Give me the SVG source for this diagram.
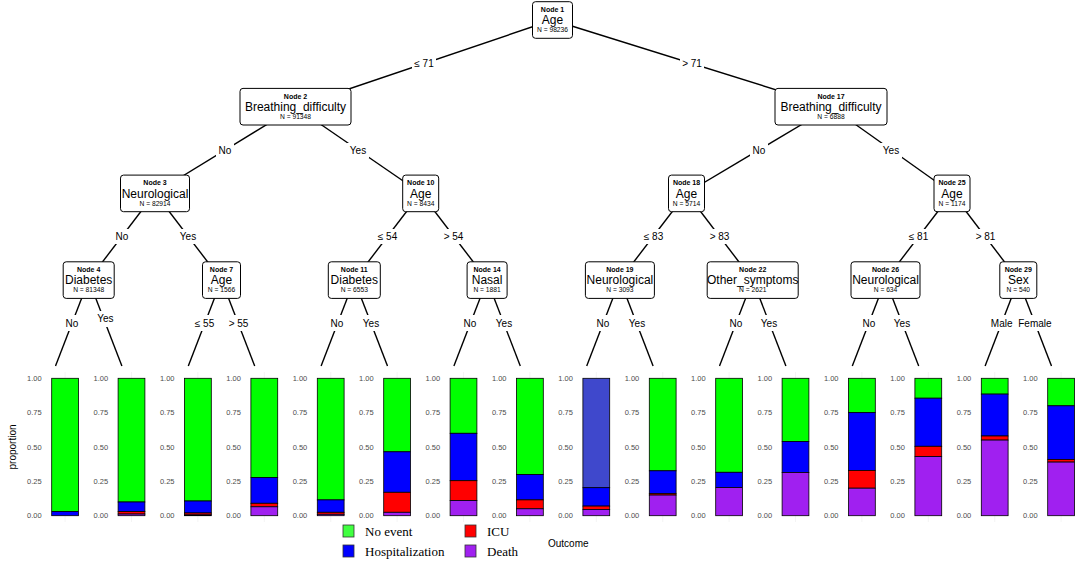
<svg xmlns="http://www.w3.org/2000/svg" width="1084" height="562" viewBox="0 0 1084 562">
<style>
.box{fill:#fff;stroke:#000;stroke-width:1}
.nid{font-family:"Liberation Sans",Arial,sans-serif;font-size:7px;font-weight:bold;text-anchor:middle;fill:#000}
.nlab{font-family:"Liberation Sans",Arial,sans-serif;font-size:12px;text-anchor:middle;fill:#000}
.nn{font-family:"Liberation Sans",Arial,sans-serif;font-size:6.7px;text-anchor:middle;fill:#000}
.edge{stroke:#000;stroke-width:1.4;fill:none}
.elbg{fill:#fff;stroke:none}
.elab{font-family:"Liberation Sans",Arial,sans-serif;font-size:10px;text-anchor:middle;fill:#000}
.tick{font-family:"Liberation Sans",Arial,sans-serif;font-size:7.5px;text-anchor:end;fill:#4d4d4d}
.grid{stroke:#ececec;stroke-width:0.6}
.g{fill:#00ff00;stroke:#000;stroke-width:0.8}
.b{fill:#0000ff;stroke:#000;stroke-width:0.8}
.r{fill:#ff0000;stroke:#000;stroke-width:0.8}
.p{fill:#a020f0;stroke:#000;stroke-width:0.8}
.s{fill:#3f48cc;stroke:#000;stroke-width:0.8}
.key{stroke:#333;stroke-width:0.8}
.leg{font-family:"Liberation Serif","Times New Roman",serif;font-size:13px;fill:#000}
.ax{font-family:"Liberation Sans",Arial,sans-serif;font-size:10px;fill:#000}
</style>

<g id="connectors">
<line class="edge" x1="552.5" y1="20" x2="295.5" y2="107"/>
<line class="edge" x1="552.5" y1="20" x2="831" y2="107"/>
<line class="edge" x1="295.5" y1="107" x2="155" y2="193"/>
<line class="edge" x1="295.5" y1="107" x2="420.7" y2="193"/>
<line class="edge" x1="831" y1="107" x2="686.5" y2="193"/>
<line class="edge" x1="831" y1="107" x2="952" y2="193"/>
<line class="edge" x1="155" y1="193" x2="88.7" y2="280"/>
<line class="edge" x1="155" y1="193" x2="221.5" y2="280"/>
<line class="edge" x1="420.7" y1="193" x2="354.3" y2="280"/>
<line class="edge" x1="420.7" y1="193" x2="487.1" y2="280"/>
<line class="edge" x1="686.5" y1="193" x2="619.9" y2="280"/>
<line class="edge" x1="686.5" y1="193" x2="752.7" y2="280"/>
<line class="edge" x1="952" y1="193" x2="885.5" y2="280"/>
<line class="edge" x1="952" y1="193" x2="1018.3" y2="280"/>
<line class="edge" x1="88.7" y1="280" x2="55.5" y2="366"/>
<line class="edge" x1="88.7" y1="280" x2="121.9" y2="366"/>
<line class="edge" x1="221.5" y1="280" x2="188.3" y2="366"/>
<line class="edge" x1="221.5" y1="280" x2="254.7" y2="366"/>
<line class="edge" x1="354.3" y1="280" x2="321.1" y2="366"/>
<line class="edge" x1="354.3" y1="280" x2="387.5" y2="366"/>
<line class="edge" x1="487.1" y1="280" x2="453.9" y2="366"/>
<line class="edge" x1="487.1" y1="280" x2="520.3" y2="366"/>
<line class="edge" x1="619.9" y1="280" x2="586.7" y2="366"/>
<line class="edge" x1="619.9" y1="280" x2="653.1" y2="366"/>
<line class="edge" x1="752.7" y1="280" x2="719.5" y2="366"/>
<line class="edge" x1="752.7" y1="280" x2="785.9" y2="366"/>
<line class="edge" x1="885.5" y1="280" x2="852.3" y2="366"/>
<line class="edge" x1="885.5" y1="280" x2="918.7" y2="366"/>
<line class="edge" x1="1018.3" y1="280" x2="985.1" y2="366"/>
<line class="edge" x1="1018.3" y1="280" x2="1051.5" y2="366"/>
<rect class="elbg" x="412" y="56" width="24" height="15"/><text class="elab" x="424" y="67">≤ 71</text>
<rect class="elbg" x="680" y="56" width="24" height="15"/><text class="elab" x="692" y="67">&gt; 71</text>
<rect class="elbg" x="216" y="143" width="18" height="15"/><text class="elab" x="225" y="154">No</text>
<rect class="elbg" x="347" y="143" width="22" height="15"/><text class="elab" x="358" y="154">Yes</text>
<rect class="elbg" x="750" y="143" width="18" height="15"/><text class="elab" x="759" y="154">No</text>
<rect class="elbg" x="880" y="143" width="22" height="15"/><text class="elab" x="891" y="154">Yes</text>
<rect class="elbg" x="113" y="229" width="18" height="15"/><text class="elab" x="122" y="240">No</text>
<rect class="elbg" x="177" y="229" width="22" height="15"/><text class="elab" x="188" y="240">Yes</text>
<rect class="elbg" x="375" y="229" width="25" height="15"/><text class="elab" x="387.5" y="240">≤ 54</text>
<rect class="elbg" x="441" y="229" width="25" height="15"/><text class="elab" x="453.5" y="240">&gt; 54</text>
<rect class="elbg" x="641" y="229" width="25" height="15"/><text class="elab" x="653.5" y="240">≤ 83</text>
<rect class="elbg" x="707" y="229" width="25" height="15"/><text class="elab" x="719.5" y="240">&gt; 83</text>
<rect class="elbg" x="906" y="229" width="25" height="15"/><text class="elab" x="918.5" y="240">≤ 81</text>
<rect class="elbg" x="973" y="229" width="25" height="15"/><text class="elab" x="985.5" y="240">&gt; 81</text>
<rect class="elbg" x="63" y="315" width="18" height="16"/><text class="elab" x="72" y="327">No</text>
<rect class="elbg" x="94" y="311" width="22" height="16"/><text class="elab" x="105.3" y="322">Yes</text>
<rect class="elbg" x="192" y="315" width="25" height="16"/><text class="elab" x="204.5" y="327">≤ 55</text>
<rect class="elbg" x="226" y="315" width="25" height="16"/><text class="elab" x="238.5" y="327">&gt; 55</text>
<rect class="elbg" x="328" y="315" width="18" height="16"/><text class="elab" x="337" y="327">No</text>
<rect class="elbg" x="360" y="315" width="22" height="16"/><text class="elab" x="371" y="327">Yes</text>
<rect class="elbg" x="461" y="315" width="18" height="16"/><text class="elab" x="470" y="327">No</text>
<rect class="elbg" x="493" y="315" width="22" height="16"/><text class="elab" x="504" y="327">Yes</text>
<rect class="elbg" x="594" y="315" width="18" height="16"/><text class="elab" x="603" y="327">No</text>
<rect class="elbg" x="626" y="315" width="22" height="16"/><text class="elab" x="637" y="327">Yes</text>
<rect class="elbg" x="727" y="315" width="18" height="16"/><text class="elab" x="736" y="327">No</text>
<rect class="elbg" x="758" y="315" width="22" height="16"/><text class="elab" x="769" y="327">Yes</text>
<rect class="elbg" x="860" y="315" width="18" height="16"/><text class="elab" x="869" y="327">No</text>
<rect class="elbg" x="891" y="315" width="22" height="16"/><text class="elab" x="902" y="327">Yes</text>
<rect class="elbg" x="989" y="315" width="26" height="16"/><text class="elab" x="1001.7" y="327">Male</text>
<rect class="elbg" x="1018" y="315" width="34" height="16"/><text class="elab" x="1034.9" y="327">Female</text>
</g>

<g id="node1"><rect class="box" x="532.5" y="1.7" width="40" height="36.6" rx="3"/><text class="nid" x="552.5" y="12">Node 1</text><text class="nlab" x="552.5" y="24.3">Age</text><text class="nn" x="552.5" y="32.3">N = 98236</text></g>
<g id="node2"><rect class="box" x="240" y="88.4" width="111" height="36.6" rx="3"/><text class="nid" x="295.5" y="98.7">Node 2</text><text class="nlab" x="295.5" y="111">Breathing_difficulty</text><text class="nn" x="295.5" y="119">N = 91348</text></g>
<g id="node17"><rect class="box" x="775" y="88.4" width="112" height="36.6" rx="3"/><text class="nid" x="831" y="98.7">Node 17</text><text class="nlab" x="831" y="111">Breathing_difficulty</text><text class="nn" x="831" y="119">N = 6888</text></g>
<g id="node3"><rect class="box" x="120.5" y="175.1" width="69" height="36.6" rx="3"/><text class="nid" x="155" y="185.4">Node 3</text><text class="nlab" x="155" y="197.7">Neurological</text><text class="nn" x="155" y="205.7">N = 82914</text></g>
<g id="node10"><rect class="box" x="402.7" y="175.1" width="36" height="36.6" rx="3"/><text class="nid" x="420.7" y="185.4">Node 10</text><text class="nlab" x="420.7" y="197.7">Age</text><text class="nn" x="420.7" y="205.7">N = 8434</text></g>
<g id="node18"><rect class="box" x="668.5" y="175.1" width="36" height="36.6" rx="3"/><text class="nid" x="686.5" y="185.4">Node 18</text><text class="nlab" x="686.5" y="197.7">Age</text><text class="nn" x="686.5" y="205.7">N = 5714</text></g>
<g id="node25"><rect class="box" x="934" y="175.1" width="36" height="36.6" rx="3"/><text class="nid" x="952" y="185.4">Node 25</text><text class="nlab" x="952" y="197.7">Age</text><text class="nn" x="952" y="205.7">N = 1174</text></g>
<g id="node4"><rect class="box" x="63.2" y="261.8" width="51" height="36.6" rx="3"/><text class="nid" x="88.7" y="272.1">Node 4</text><text class="nlab" x="88.7" y="284.4">Diabetes</text><text class="nn" x="88.7" y="292.4">N = 81348</text></g>
<g id="node7"><rect class="box" x="202.5" y="261.8" width="38" height="36.6" rx="3"/><text class="nid" x="221.5" y="272.1">Node 7</text><text class="nlab" x="221.5" y="284.4">Age</text><text class="nn" x="221.5" y="292.4">N = 1566</text></g>
<g id="node11"><rect class="box" x="328.3" y="261.8" width="52" height="36.6" rx="3"/><text class="nid" x="354.3" y="272.1">Node 11</text><text class="nlab" x="354.3" y="284.4">Diabetes</text><text class="nn" x="354.3" y="292.4">N = 6553</text></g>
<g id="node14"><rect class="box" x="467.1" y="261.8" width="40" height="36.6" rx="3"/><text class="nid" x="487.1" y="272.1">Node 14</text><text class="nlab" x="487.1" y="284.4">Nasal</text><text class="nn" x="487.1" y="292.4">N = 1881</text></g>
<g id="node19"><rect class="box" x="585.4" y="261.8" width="69" height="36.6" rx="3"/><text class="nid" x="619.9" y="272.1">Node 19</text><text class="nlab" x="619.9" y="284.4">Neurological</text><text class="nn" x="619.9" y="292.4">N = 3093</text></g>
<g id="node22"><rect class="box" x="707.2" y="261.8" width="91" height="36.6" rx="3"/><text class="nid" x="752.7" y="272.1">Node 22</text><text class="nlab" x="752.7" y="284.4">Other_symptoms</text><text class="nn" x="752.7" y="292.4">N = 2621</text></g>
<g id="node26"><rect class="box" x="851" y="261.8" width="69" height="36.6" rx="3"/><text class="nid" x="885.5" y="272.1">Node 26</text><text class="nlab" x="885.5" y="284.4">Neurological</text><text class="nn" x="885.5" y="292.4">N = 634</text></g>
<g id="node29"><rect class="box" x="999.8" y="261.8" width="37" height="36.6" rx="3"/><text class="nid" x="1018.3" y="272.1">Node 29</text><text class="nlab" x="1018.3" y="284.4">Sex</text><text class="nn" x="1018.3" y="292.4">N = 540</text></g>

<g id="grid">
<line class="grid" x1="65.1" y1="372" x2="65.1" y2="522"/><line class="grid" x1="131.5" y1="372" x2="131.5" y2="522"/><line class="grid" x1="197.9" y1="372" x2="197.9" y2="522"/><line class="grid" x1="264.3" y1="372" x2="264.3" y2="522"/>
<line class="grid" x1="330.7" y1="372" x2="330.7" y2="522"/><line class="grid" x1="397.1" y1="372" x2="397.1" y2="522"/><line class="grid" x1="463.5" y1="372" x2="463.5" y2="522"/><line class="grid" x1="529.9" y1="372" x2="529.9" y2="522"/>
<line class="grid" x1="596.3" y1="372" x2="596.3" y2="522"/><line class="grid" x1="662.7" y1="372" x2="662.7" y2="522"/><line class="grid" x1="729.1" y1="372" x2="729.1" y2="522"/><line class="grid" x1="795.5" y1="372" x2="795.5" y2="522"/>
<line class="grid" x1="861.9" y1="372" x2="861.9" y2="522"/><line class="grid" x1="928.3" y1="372" x2="928.3" y2="522"/><line class="grid" x1="994.7" y1="372" x2="994.7" y2="522"/><line class="grid" x1="1061.1" y1="372" x2="1061.1" y2="522"/>
</g>

<g id="bars">
<rect class="g" x="51.7" y="378.3" width="26.8" height="133.3"/><rect class="b" x="51.7" y="511.6" width="26.8" height="4.1"/>
<rect class="g" x="118.1" y="378.3" width="26.8" height="123.7"/><rect class="b" x="118.1" y="502" width="26.8" height="9.6"/><rect class="r" x="118.1" y="511.6" width="26.8" height="2.45"/><rect class="p" x="118.1" y="514.05" width="26.8" height="1.65"/>
<rect class="g" x="184.5" y="378.3" width="26.8" height="122.7"/><rect class="b" x="184.5" y="501" width="26.8" height="12"/><rect class="r" x="184.5" y="513" width="26.8" height="1.9"/><rect class="p" x="184.5" y="514.9" width="26.8" height="0.8"/>
<rect class="g" x="250.9" y="378.3" width="26.8" height="99.3"/><rect class="b" x="250.9" y="477.6" width="26.8" height="25.7"/><rect class="r" x="250.9" y="503.3" width="26.8" height="3.5"/><rect class="p" x="250.9" y="506.8" width="26.8" height="8.9"/>
<rect class="g" x="317.3" y="378.3" width="26.8" height="121.6"/><rect class="b" x="317.3" y="499.9" width="26.8" height="12.4"/><rect class="r" x="317.3" y="512.3" width="26.8" height="2"/><rect class="p" x="317.3" y="514.3" width="26.8" height="1.4"/>
<rect class="g" x="383.7" y="378.3" width="26.8" height="73.5"/><rect class="b" x="383.7" y="451.8" width="26.8" height="40.5"/><rect class="r" x="383.7" y="492.3" width="26.8" height="20"/><rect class="p" x="383.7" y="512.3" width="26.8" height="3.4"/>
<rect class="g" x="450.1" y="378.3" width="26.8" height="55"/><rect class="b" x="450.1" y="433.3" width="26.8" height="47.4"/><rect class="r" x="450.1" y="480.7" width="26.8" height="19.9"/><rect class="p" x="450.1" y="500.6" width="26.8" height="15.1"/>
<rect class="g" x="516.5" y="378.3" width="26.8" height="96.2"/><rect class="b" x="516.5" y="474.5" width="26.8" height="25.4"/><rect class="r" x="516.5" y="499.9" width="26.8" height="8.9"/><rect class="p" x="516.5" y="508.8" width="26.8" height="6.9"/>
<rect class="s" x="582.9" y="378.3" width="26.8" height="109.4"/><rect class="b" x="582.9" y="487.7" width="26.8" height="18.4"/><rect class="r" x="582.9" y="506.1" width="26.8" height="3.4"/><rect class="p" x="582.9" y="509.5" width="26.8" height="6.2"/>
<rect class="g" x="649.3" y="378.3" width="26.8" height="92.5"/><rect class="b" x="649.3" y="470.8" width="26.8" height="22.9"/><rect class="r" x="649.3" y="493.7" width="26.8" height="1.4"/><rect class="p" x="649.3" y="495.1" width="26.8" height="20.6"/>
<rect class="g" x="715.7" y="378.3" width="26.8" height="94"/><rect class="b" x="715.7" y="472.3" width="26.8" height="15.3"/><rect class="p" x="715.7" y="487.6" width="26.8" height="28.1"/>
<rect class="g" x="782.1" y="378.3" width="26.8" height="63.3"/><rect class="b" x="782.1" y="441.6" width="26.8" height="30.9"/><rect class="p" x="782.1" y="472.5" width="26.8" height="43.2"/>
<rect class="g" x="848.5" y="378.3" width="26.8" height="34.35"/><rect class="b" x="848.5" y="412.65" width="26.8" height="57.75"/><rect class="r" x="848.5" y="470.4" width="26.8" height="17.8"/><rect class="p" x="848.5" y="488.2" width="26.8" height="27.5"/>
<rect class="g" x="914.9" y="378.3" width="26.8" height="19.9"/><rect class="b" x="914.9" y="398.2" width="26.8" height="48.1"/><rect class="r" x="914.9" y="446.3" width="26.8" height="10.3"/><rect class="p" x="914.9" y="456.6" width="26.8" height="59.1"/>
<rect class="g" x="981.3" y="378.3" width="26.8" height="15.8"/><rect class="b" x="981.3" y="394.1" width="26.8" height="41.9"/><rect class="r" x="981.3" y="436" width="26.8" height="4.1"/><rect class="p" x="981.3" y="440.1" width="26.8" height="75.6"/>
<rect class="g" x="1047.7" y="378.3" width="26.8" height="27.5"/><rect class="b" x="1047.7" y="405.8" width="26.8" height="53.6"/><rect class="r" x="1047.7" y="459.4" width="26.8" height="2.7"/><rect class="p" x="1047.7" y="462.1" width="26.8" height="53.6"/>
</g>

<g id="ticks">
<text class="tick" x="41.7" y="381">1.00</text><text class="tick" x="41.7" y="415.35">0.75</text><text class="tick" x="41.7" y="449.7">0.50</text><text class="tick" x="41.7" y="484.05">0.25</text><text class="tick" x="41.7" y="518.4">0.00</text>
<text class="tick" x="108.1" y="381">1.00</text><text class="tick" x="108.1" y="415.35">0.75</text><text class="tick" x="108.1" y="449.7">0.50</text><text class="tick" x="108.1" y="484.05">0.25</text><text class="tick" x="108.1" y="518.4">0.00</text>
<text class="tick" x="174.5" y="381">1.00</text><text class="tick" x="174.5" y="415.35">0.75</text><text class="tick" x="174.5" y="449.7">0.50</text><text class="tick" x="174.5" y="484.05">0.25</text><text class="tick" x="174.5" y="518.4">0.00</text>
<text class="tick" x="240.9" y="381">1.00</text><text class="tick" x="240.9" y="415.35">0.75</text><text class="tick" x="240.9" y="449.7">0.50</text><text class="tick" x="240.9" y="484.05">0.25</text><text class="tick" x="240.9" y="518.4">0.00</text>
<text class="tick" x="307.3" y="381">1.00</text><text class="tick" x="307.3" y="415.35">0.75</text><text class="tick" x="307.3" y="449.7">0.50</text><text class="tick" x="307.3" y="484.05">0.25</text><text class="tick" x="307.3" y="518.4">0.00</text>
<text class="tick" x="373.7" y="381">1.00</text><text class="tick" x="373.7" y="415.35">0.75</text><text class="tick" x="373.7" y="449.7">0.50</text><text class="tick" x="373.7" y="484.05">0.25</text><text class="tick" x="373.7" y="518.4">0.00</text>
<text class="tick" x="440.1" y="381">1.00</text><text class="tick" x="440.1" y="415.35">0.75</text><text class="tick" x="440.1" y="449.7">0.50</text><text class="tick" x="440.1" y="484.05">0.25</text><text class="tick" x="440.1" y="518.4">0.00</text>
<text class="tick" x="506.5" y="381">1.00</text><text class="tick" x="506.5" y="415.35">0.75</text><text class="tick" x="506.5" y="449.7">0.50</text><text class="tick" x="506.5" y="484.05">0.25</text><text class="tick" x="506.5" y="518.4">0.00</text>
<text class="tick" x="572.9" y="381">1.00</text><text class="tick" x="572.9" y="415.35">0.75</text><text class="tick" x="572.9" y="449.7">0.50</text><text class="tick" x="572.9" y="484.05">0.25</text><text class="tick" x="572.9" y="518.4">0.00</text>
<text class="tick" x="639.3" y="381">1.00</text><text class="tick" x="639.3" y="415.35">0.75</text><text class="tick" x="639.3" y="449.7">0.50</text><text class="tick" x="639.3" y="484.05">0.25</text><text class="tick" x="639.3" y="518.4">0.00</text>
<text class="tick" x="705.7" y="381">1.00</text><text class="tick" x="705.7" y="415.35">0.75</text><text class="tick" x="705.7" y="449.7">0.50</text><text class="tick" x="705.7" y="484.05">0.25</text><text class="tick" x="705.7" y="518.4">0.00</text>
<text class="tick" x="772.1" y="381">1.00</text><text class="tick" x="772.1" y="415.35">0.75</text><text class="tick" x="772.1" y="449.7">0.50</text><text class="tick" x="772.1" y="484.05">0.25</text><text class="tick" x="772.1" y="518.4">0.00</text>
<text class="tick" x="838.5" y="381">1.00</text><text class="tick" x="838.5" y="415.35">0.75</text><text class="tick" x="838.5" y="449.7">0.50</text><text class="tick" x="838.5" y="484.05">0.25</text><text class="tick" x="838.5" y="518.4">0.00</text>
<text class="tick" x="904.9" y="381">1.00</text><text class="tick" x="904.9" y="415.35">0.75</text><text class="tick" x="904.9" y="449.7">0.50</text><text class="tick" x="904.9" y="484.05">0.25</text><text class="tick" x="904.9" y="518.4">0.00</text>
<text class="tick" x="971.3" y="381">1.00</text><text class="tick" x="971.3" y="415.35">0.75</text><text class="tick" x="971.3" y="449.7">0.50</text><text class="tick" x="971.3" y="484.05">0.25</text><text class="tick" x="971.3" y="518.4">0.00</text>
<text class="tick" x="1037.7" y="381">1.00</text><text class="tick" x="1037.7" y="415.35">0.75</text><text class="tick" x="1037.7" y="449.7">0.50</text><text class="tick" x="1037.7" y="484.05">0.25</text><text class="tick" x="1037.7" y="518.4">0.00</text>
</g>
<text class="ax" x="16" y="447" text-anchor="middle" transform="rotate(-90 16 447)">proportion</text>

<g id="legend">
<rect class="key" x="343" y="525" width="11" height="12" fill="#40ff40"/><text class="leg" x="365" y="536">No event</text>
<rect class="key" x="343" y="545" width="11" height="12" fill="#0000ff"/><text class="leg" x="365" y="556">Hospitalization</text>
<rect class="key" x="465" y="525" width="11" height="12" fill="#ff0000"/><text class="leg" x="487" y="536">ICU</text>
<rect class="key" x="465" y="545" width="11" height="12" fill="#a020f0"/><text class="leg" x="487" y="556">Death</text>
<text class="ax" x="548" y="547">Outcome</text>
</g>
</svg>
